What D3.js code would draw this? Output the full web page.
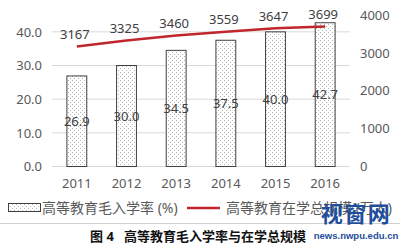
<!DOCTYPE html>
<html><head><meta charset="utf-8">
<script src="https://cdn.jsdelivr.net/npm/d3@7"></script>
<style>body{margin:0;background:#fff}svg{display:block}</style>
</head><body>
<svg id="c" width="400" height="244"></svg>
<script>
const years = ["2011","2012","2013","2014","2015","2016"];
const rate = [26.9, 30.0, 34.5, 37.5, 40.0, 42.7];
const scale = [3167, 3325, 3460, 3559, 3647, 3699];
const leftTicks = [0, 10, 20, 30, 40];
const rightTicks = [0, 1000, 2000, 3000, 4000];
const legendRate = "高等教育毛入学率 (%)";
const legendScale = "高等教育在学总规模 (万人)";
const caption = "图 4   高等教育毛入学率与在学总规模";

const svg = d3.select("#c");
const font = "'Noto Sans','Noto Sans CJK SC',sans-serif";
const defs = svg.append("defs");
const pat = defs.append("pattern").attr("id","dots").attr("patternUnits","userSpaceOnUse")
  .attr("width",4).attr("height",4);
pat.append("rect").attr("width",4).attr("height",4).attr("fill","#fff");
pat.append("rect").attr("x",0).attr("y",0).attr("width",1).attr("height",1).attr("fill","#b4b4b4");
pat.append("rect").attr("x",2).attr("y",2).attr("width",1).attr("height",1).attr("fill","#b4b4b4");

const L = 52, R = 350, T = 15, B = 166.5;
const x = d3.scaleBand().domain(years).range([L, R]).paddingInner(0.6).paddingOuter(0.3);
const yL = d3.scaleLinear().domain([0, 45]).range([B, T]);
const yR = d3.scaleLinear().domain([0, 4000]).range([B, T]);

// gridlines
svg.append("g").selectAll("line").data(leftTicks).join("line")
  .attr("x1", L).attr("x2", R).attr("y1", d => yL(d)).attr("y2", d => yL(d))
  .attr("stroke", "#d9d9d9").attr("stroke-width", 1);

// left axis labels
const gl = svg.append("g").attr("transform", `translate(${L},0)`)
  .call(d3.axisLeft(yL).tickValues(leftTicks).tickFormat(d3.format(".1f")).tickSize(0).tickPadding(10));
gl.select(".domain").remove();
gl.selectAll("text").attr("font-family", font).attr("font-size", 13).attr("fill", "#595959");

const gr = svg.append("g").attr("transform", `translate(${R},0)`)
  .call(d3.axisRight(yR).tickValues(rightTicks).tickFormat(d3.format("d")).tickSize(0).tickPadding(10));
gr.select(".domain").remove();
gr.selectAll("text").attr("font-family", font).attr("font-size", 13).attr("fill", "#595959");

const gx = svg.append("g").attr("transform", `translate(0,${B})`)
  .call(d3.axisBottom(x).tickSize(0).tickPadding(12));
gx.select(".domain").remove();
gx.selectAll("text").attr("font-family", font).attr("font-size", 13).attr("fill", "#595959");

// bars
svg.append("g").selectAll("rect").data(rate).join("rect")
  .attr("x", (d,i) => x(years[i])).attr("width", x.bandwidth())
  .attr("y", d => yL(d)).attr("height", d => yL(0) - yL(d))
  .attr("fill", "url(#dots)").attr("stroke", "#404040").attr("stroke-width", 1);

svg.append("g").selectAll("text").data(rate).join("text")
  .attr("x", (d,i) => x(years[i]) + x.bandwidth()/2)
  .attr("y", d => (yL(d) + yL(0))/2)
  .attr("dy", "0.35em").attr("text-anchor", "middle")
  .attr("font-family", font).attr("font-size", 13).attr("fill", "#404040")
  .text(d => d.toFixed(1));

// line
const cx = i => x(years[i]) + x.bandwidth()/2;
svg.append("path").datum(scale)
  .attr("d", d3.line().x((d,i) => cx(i)).y(d => yR(d)))
  .attr("fill", "none").attr("stroke", "#c0262d").attr("stroke-width", 2.5);

svg.append("g").selectAll("text").data(scale).join("text")
  .attr("x", (d,i) => cx(i) - 2).attr("y", d => yR(d) - 12)
  .attr("dy", "0.35em").attr("text-anchor", "middle")
  .attr("font-family", font).attr("font-size", 13).attr("fill", "#404040")
  .text(d => d);

// legend
const ly = 208;
svg.append("rect").attr("x", 8.5).attr("y", ly - 4.5).attr("width", 32).attr("height", 8)
  .attr("fill", "url(#dots)").attr("stroke", "#404040").attr("stroke-width", 1);
svg.append("text").attr("x", 42).attr("y", ly).attr("dy", "0.35em")
  .attr("font-family", font).attr("font-size", 14).attr("fill", "#595959").text(legendRate);
svg.append("line").attr("x1", 187).attr("x2", 220).attr("y1", ly).attr("y2", ly)
  .attr("stroke", "#c0262d").attr("stroke-width", 2.5);
svg.append("text").attr("x", 226).attr("y", ly).attr("dy", "0.35em")
  .attr("font-family", font).attr("font-size", 14).attr("fill", "#595959").text(legendScale);

// separator
svg.append("line").attr("x1", 0).attr("x2", 400).attr("y1", 223.5).attr("y2", 223.5)
  .attr("stroke", "#d0d0d0").attr("stroke-width", 1);

// caption
svg.append("text").attr("x", 90).attr("y", 236).attr("dy", "0.35em")
  .attr("font-family", font).attr("font-size", 13).attr("font-weight", "bold").attr("fill", "#111")
  .attr("xml:space", "preserve").style("white-space", "pre").text(caption);

// watermark
svg.append("text").attr("x", 356).attr("y", 214).attr("dy", "0.35em").attr("text-anchor", "middle")
  .attr("font-family", "'Noto Sans CJK SC',sans-serif").attr("font-size", 22).attr("font-weight", "bold")
  .attr("fill", "#1f4e9c").attr("letter-spacing", 1.5).text("视窗网");
svg.append("text").attr("x", 356).attr("y", 235.5).attr("dy", "0.35em").attr("text-anchor", "middle")
  .attr("font-family", "'Liberation Sans',sans-serif").attr("font-size", 9.5).attr("font-weight", "bold")
  .attr("fill", "#1f4e9c").text("news.nwpu.edu.cn");
</script>
</body></html>
